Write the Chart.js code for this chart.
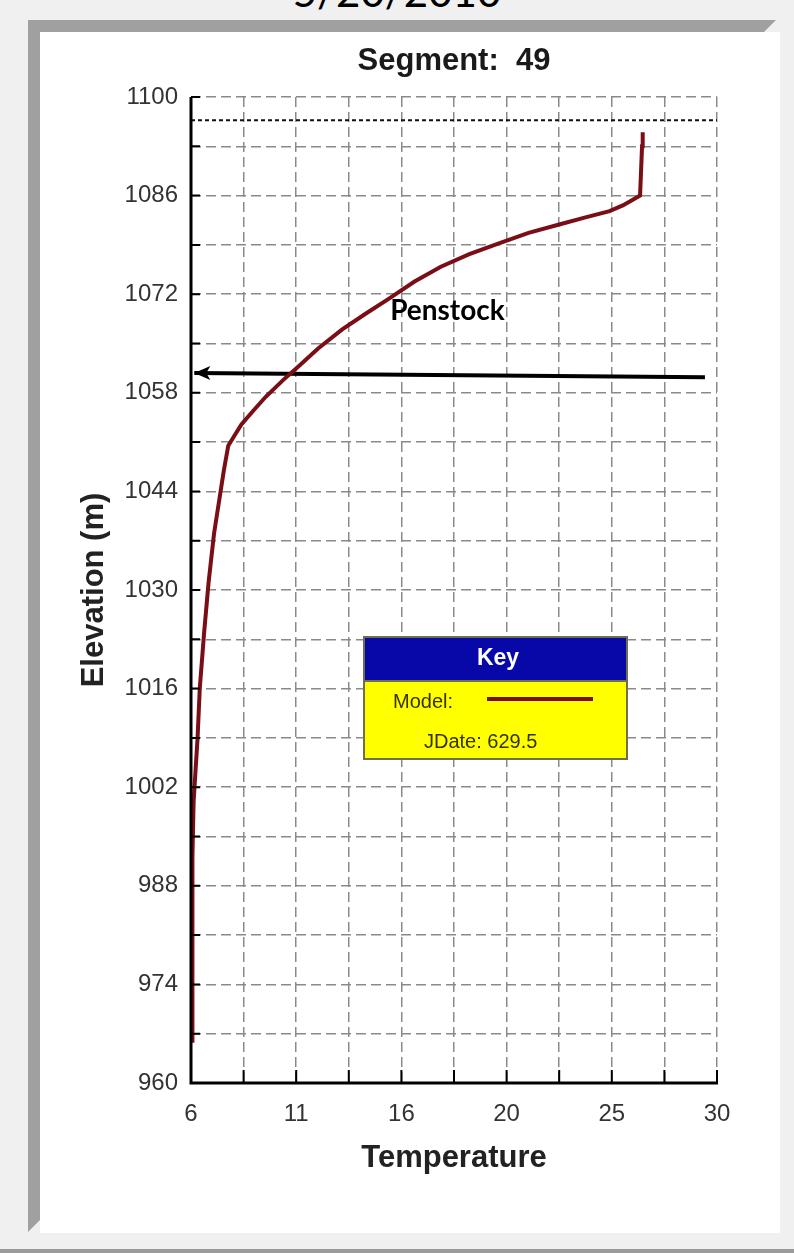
<!DOCTYPE html>
<html>
<head>
<meta charset="utf-8">
<script src="https://cdn.jsdelivr.net/npm/chart.js@4.4.0/dist/chart.umd.min.js"></script>
<style>
  body { margin:0; background:#f0f0f0; width:794px; height:1253px; overflow:hidden; position:relative; }
  #date { position:absolute; left:0; width:794px; top:-34px; text-align:center; font:42px Lato, "Open Sans", sans-serif; color:#000; }
  #frameTop { position:absolute; left:28px; top:20px; width:748px; height:12px; background:#a0a0a0; clip-path:polygon(0 0,100% 0,calc(100% - 12px) 100%,0 100%); }
  #frameLeft { position:absolute; left:28px; top:20px; width:12px; height:1212px; background:#a0a0a0; clip-path:polygon(0 0,100% 12px,100% calc(100% - 12px),0 100%); }
  #panel { position:absolute; left:40px; top:32px; width:740px; height:1201px; background:#fff; }
  #bottomLine { position:absolute; left:0; top:1249px; width:794px; height:4px; background:#9a9a9a; }
  canvas { position:absolute; left:0; top:0; }
</style>
</head>
<body>
<div id="date">5/20/2010</div>
<div id="panel"></div>
<div id="frameTop"></div>
<div id="frameLeft"></div>
<div id="bottomLine"></div>
<canvas id="profile" width="794" height="1253"></canvas>
<script>
// model temperature profile, segment 49
const modelTemp = [6.05, 6.05, 6.08, 6.12, 6.2, 6.3, 6.4, 6.6, 6.8, 7.05, 7.3, 7.5, 7.7, 8.0, 8.3, 8.8, 9.4, 10.2, 10.85, 11.8, 12.9, 14.0, 15.0, 16.2, 17.4, 18.7, 20.05, 21.4, 22.8, 24.0, 25.1, 25.7, 26.1, 26.49, 26.58, 26.61];
const modelElev = [966, 980, 992, 1000, 1004, 1009, 1016, 1024, 1031, 1038, 1043, 1047, 1050.5, 1052, 1053.5, 1055.3, 1057.4, 1059.8, 1061.6, 1064.3, 1067, 1069.3, 1071.3, 1073.8, 1075.9, 1077.7, 1079.2, 1080.7, 1081.9, 1082.9, 1083.8, 1084.6, 1085.3, 1086, 1093, 1095];

const surfaceTemp = [6, 30];
const surfaceElev = [1096.7, 1096.7];

// penstock arrow (drawn from right to left)
const penstockTemp = [29.45, 6.15];
const penstockElev = [1060.2, 1060.8];

const tempTicks = [6, 8.4, 10.8, 13.2, 15.6, 18, 20.4, 22.8, 25.2, 27.6, 30];
const tempTickLabels = ['6', '', '11', '', '16', '', '20', '', '25', '', '30'];
const elevTicks = [960, 967, 974, 981, 988, 995, 1002, 1009, 1016, 1023, 1030, 1037, 1044, 1051, 1058, 1065, 1072, 1079, 1086, 1093, 1100];
const elevTickLabels = ['960', '', '974', '', '988', '', '1002', '', '1016', '', '1030', '', '1044', '', '1058', '', '1072', '', '1086', '', '1100'];

const lineColor = '#7a0e16';

const toPts = (xs, ys) => xs.map((x, i) => ({x: x, y: ys[i]}));

const extras = {
  id: 'extras',
  afterDraw(chart) {
    const ctx = chart.ctx;
    const xs = chart.scales.x, ys = chart.scales.y;
    const a = chart.chartArea;
    ctx.save();

    // solid axes + inward ticks
    ctx.strokeStyle = '#000';
    ctx.lineWidth = 3;
    ctx.beginPath();
    ctx.moveTo(a.left, a.top);
    ctx.lineTo(a.left, a.bottom);
    ctx.lineTo(a.right + 1, a.bottom);
    ctx.stroke();
    ctx.lineWidth = 2;
    ctx.beginPath();
    elevTicks.forEach(v => {
      const y = ys.getPixelForValue(v);
      ctx.moveTo(a.left, y); ctx.lineTo(a.left + 9, y);
    });
    tempTicks.forEach(v => {
      const x = xs.getPixelForValue(v);
      ctx.moveTo(x, a.bottom); ctx.lineTo(x, a.bottom - 13);
    });
    ctx.stroke();

    // arrow head
    const tx = xs.getPixelForValue(penstockTemp[1]);
    const ty = ys.getPixelForValue(penstockElev[1]);
    ctx.fillStyle = '#000';
    ctx.beginPath();
    ctx.moveTo(tx, ty);
    ctx.lineTo(tx + 16, ty - 7);
    ctx.lineTo(tx + 12, ty);
    ctx.lineTo(tx + 16, ty + 7);
    ctx.closePath();
    ctx.fill();

    // labels
    ctx.fillStyle = '#000';
    ctx.font = 'bold 28px Lato, "Open Sans", sans-serif';
    ctx.textAlign = 'center';
    ctx.textBaseline = 'middle';
    ctx.fillText('Penstock', xs.getPixelForValue(17.7), ys.getPixelForValue(1069.6));

    ctx.fillStyle = '#1a1a1a';
    ctx.font = 'bold 31px "Liberation Sans", Arial, sans-serif';
    ctx.fillText('Segment:  49', 454, 61);

    // key box
    const kx = 364, ky = 637, kw = 263, kh1 = 44, kh2 = 78;
    ctx.fillStyle = '#0808a8';
    ctx.fillRect(kx, ky, kw, kh1);
    ctx.fillStyle = '#ffff00';
    ctx.fillRect(kx, ky + kh1, kw, kh2);
    ctx.strokeStyle = '#6e6e50';
    ctx.lineWidth = 2;
    ctx.strokeRect(kx, ky, kw, kh1 + kh2);
    ctx.beginPath();
    ctx.moveTo(kx, ky + kh1); ctx.lineTo(kx + kw, ky + kh1);
    ctx.stroke();
    ctx.fillStyle = '#fff';
    ctx.font = 'bold 23px "Liberation Sans", Arial, sans-serif';
    ctx.fillText('Key', kx + 134, ky + 22);
    ctx.fillStyle = '#333300';
    ctx.font = '20px "Liberation Sans", Arial, sans-serif';
    ctx.textAlign = 'left';
    ctx.fillText('Model:', kx + 29, ky + 65);
    ctx.fillText('JDate: 629.5', kx + 60, ky + 105);
    ctx.strokeStyle = lineColor;
    ctx.lineWidth = 4;
    ctx.beginPath();
    ctx.moveTo(kx + 123, ky + 62); ctx.lineTo(kx + 229, ky + 62);
    ctx.stroke();

    ctx.restore();
  }
};

new Chart(document.getElementById('profile'), {
  type: 'scatter',
  data: {
    datasets: [{
      label: 'Model',
      data: toPts(modelTemp, modelElev),
      showLine: true,
      borderColor: lineColor,
      borderWidth: 4,
      pointRadius: 0,
      tension: 0
    }, {
      label: 'Surface',
      data: toPts(surfaceTemp, surfaceElev),
      showLine: true,
      borderColor: '#111',
      borderWidth: 2,
      borderDash: [4, 3],
      pointRadius: 0
    }, {
      label: 'Penstock',
      data: toPts(penstockTemp, penstockElev),
      showLine: true,
      borderColor: '#000',
      borderWidth: 4,
      pointRadius: 0
    }]
  },
  options: {
    responsive: false,
    animation: false,
    layout: {padding: {top: 97, right: 77, left: 0, bottom: 0}},
    plugins: {legend: {display: false}, tooltip: {enabled: false}},
    scales: {
      x: {
        type: 'linear',
        min: 6, max: 30,
        afterBuildTicks: s => { s.ticks = tempTicks.map(v => ({value: v})); },
        afterFit: s => { s.height = 170; },
        grid: {color: '#8a8a8a', lineWidth: 1.5, drawTicks: false},
        border: {display: false, dash: [10, 5]},
        ticks: {
          autoSkip: false, maxRotation: 0, padding: 17, color: '#333',
          font: {family: '"Liberation Sans", Arial, sans-serif', size: 24},
          callback: (v, i) => tempTickLabels[i]
        },
        title: {
          display: true, text: 'Temperature', color: '#222',
          font: {family: '"Liberation Sans", Arial, sans-serif', size: 31, weight: 'bold'},
          padding: {top: 0, bottom: 76}
        }
      },
      y: {
        type: 'linear',
        min: 960, max: 1100,
        afterBuildTicks: s => { s.ticks = elevTicks.map(v => ({value: v})); },
        afterFit: s => { s.width = 191; },
        grid: {color: '#8a8a8a', lineWidth: 1.5, drawTicks: false},
        border: {display: false, dash: [10, 5]},
        ticks: {
          autoSkip: false, padding: 13, color: '#333',
          font: {family: '"Liberation Sans", Arial, sans-serif', size: 24},
          callback: (v, i) => elevTickLabels[i]
        },
        title: {
          display: true, text: 'Elevation (m)', color: '#222',
          font: {family: '"Liberation Sans", Arial, sans-serif', size: 31, weight: 'bold'},
          padding: {top: 76, bottom: 0}
        }
      }
    }
  },
  plugins: [extras]
});
</script>
</body>
</html>
